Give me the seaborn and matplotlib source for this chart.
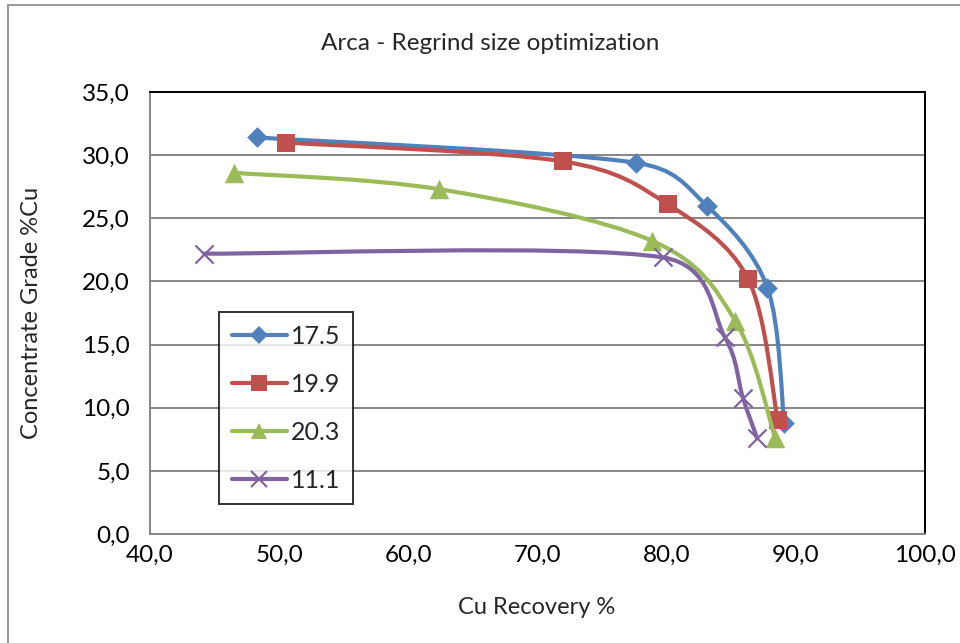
import numpy as np
import pandas as pd
import matplotlib
matplotlib.use("Agg")
import matplotlib.pyplot as plt
import seaborn as sns
from matplotlib.path import Path
from matplotlib.patches import PathPatch, Rectangle
from matplotlib.lines import Line2D
from matplotlib.ticker import FuncFormatter, MultipleLocator

# Recovery (x) / grade (y) pairs for each regrind size
series_names = ["17.5", "19.9", "20.3", "11.1"]
rec_175 = [48.3, 77.6, 83.1, 87.8, 89.1]
grade_175 = [31.4, 29.4, 26.0, 19.5, 8.8]
rec_199 = [50.5, 72.0, 80.1, 86.3, 88.6]
grade_199 = [31.0, 29.5, 26.1, 20.2, 9.0]
rec_203 = [46.5, 62.4, 78.9, 85.3, 88.4]
grade_203 = [28.6, 27.3, 23.2, 16.9, 7.6]
rec_111 = [44.2, 79.7, 84.5, 85.9, 87.0]
grade_111 = [22.2, 21.9, 15.6, 10.8, 7.6]

title = "Arca - Regrind size optimization"
x_label = "Cu Recovery %"
y_label = "Concentrate Grade %Cu"

colors = ["#4F81BD", "#C0504D", "#9BBB59", "#8064A2"]
markers = ["D", "s", "^", "x"]
marker_sizes = [10.5, 13.5, 14.0, 13.0]

sns.set_theme(style="white")
plt.rcParams["font.family"] = ["Lato", "DejaVu Sans"]
FS_TICK = 17.5

fig = plt.figure(figsize=(9.6, 6.43), dpi=100)
ax = fig.add_axes([150 / 960, 1 - 534 / 643, 775 / 960, 442 / 643])

# outer chart border
fig.patches.append(Rectangle((8 / 960, -0.1), 1.2, 1 - 5 / 643 + 0.1,
                             transform=fig.transFigure, fill=False,
                             edgecolor="#868686", lw=1.2, zorder=0))


def smooth_path(xs, ys):
    """Bezier path through the points; tangent handles are 1/6 of the
    neighbour chord, capped at half of the current segment."""
    pts = np.column_stack([xs, ys]).astype(float)
    n = len(pts)
    verts = [pts[0]]
    codes = [Path.MOVETO]
    for i in range(n - 1):
        p0 = pts[max(i - 1, 0)]
        p1 = pts[i]
        p2 = pts[i + 1]
        p3 = pts[min(i + 2, n - 1)]
        d12 = np.hypot(*(p2 - p1))
        d02 = np.hypot(*(p2 - p0))
        d13 = np.hypot(*(p3 - p1))
        f0 = 1 / 6 if d02 / 6 < d12 / 2 else d12 / (2 * d02)
        f1 = 1 / 6 if d13 / 6 < d12 / 2 else d12 / (2 * d13)
        c1 = p1 + (p2 - p0) * f0
        c2 = p2 - (p3 - p1) * f1
        verts += [c1, c2, p2]
        codes += [Path.CURVE4] * 3
    return Path(verts, codes)


data = [(rec_175, grade_175), (rec_199, grade_199),
        (rec_203, grade_203), (rec_111, grade_111)]

handles = []
for k, (xs, ys) in enumerate(data):
    z = 3 + 2 * k
    ax.add_patch(PathPatch(smooth_path(xs, ys), facecolor="none",
                           edgecolor=colors[k], lw=3.0, capstyle="round",
                           joinstyle="round", zorder=z))
    df = pd.DataFrame({"x": xs, "y": ys})
    if markers[k] == "x":
        sns.scatterplot(data=df, x="x", y="y", ax=ax, marker="x",
                        color=colors[k], s=marker_sizes[k] ** 2,
                        linewidth=1.6, zorder=z + 1, legend=False)
    else:
        sns.scatterplot(data=df, x="x", y="y", ax=ax, marker=markers[k],
                        color=colors[k], s=marker_sizes[k] ** 2,
                        linewidth=0, zorder=z + 1, legend=False)
    handles.append(Line2D([], [], color=colors[k], lw=3.0,
                          marker=markers[k], markersize=marker_sizes[k] * 0.85,
                          markeredgewidth=1.6 if markers[k] == "x" else 0,
                          solid_capstyle="round"))

ax.set_xlim(40, 100)
ax.set_ylim(0, 35)
ax.xaxis.set_major_locator(MultipleLocator(10))
ax.yaxis.set_major_locator(MultipleLocator(5))
fmt = FuncFormatter(lambda v, p: f"{v:.1f}".replace(".", ","))
ax.xaxis.set_major_formatter(fmt)
ax.yaxis.set_major_formatter(fmt)
ax.set_xlabel("")
ax.set_ylabel("")

ax.yaxis.grid(True, color="#868686", lw=1.4)
ax.xaxis.grid(False)
ax.set_axisbelow(True)

for side in ["top", "right"]:
    ax.spines[side].set_color("black")
    ax.spines[side].set_linewidth(1.4)
for side in ["left", "bottom"]:
    ax.spines[side].set_color("#868686")
    ax.spines[side].set_linewidth(1.4)
    ax.spines[side].set_zorder(2.5)

ax.tick_params(axis="both", direction="out", length=5.5, width=1.2,
               color="#868686", labelsize=FS_TICK, labelcolor="black")
ax.tick_params(axis="y", pad=9)
ax.tick_params(axis="x", pad=2)

fig.text(490 / 960, 1 - 43 / 643, title, ha="center", va="center",
         fontsize=17.5)
fig.text(537 / 960, 1 - 607 / 643, x_label, ha="center", va="center",
         fontsize=17)
fig.text(31 / 960, 1 - 313 / 643, y_label, ha="center", va="center",
         rotation=90, fontsize=17)

leg = fig.legend(handles, series_names, loc="upper left",
                 bbox_to_anchor=(219 / 960, 1 - 312 / 643),
                 bbox_transform=fig.transFigure, borderaxespad=0,
                 fontsize=18, frameon=True, fancybox=False,
                 edgecolor="black", handlelength=2.2, handletextpad=0.16,
                 labelspacing=1.0, borderpad=0.5)
leg.get_frame().set_linewidth(1.4)
leg.set_zorder(20)

fig.savefig("out.png", dpi=100)
